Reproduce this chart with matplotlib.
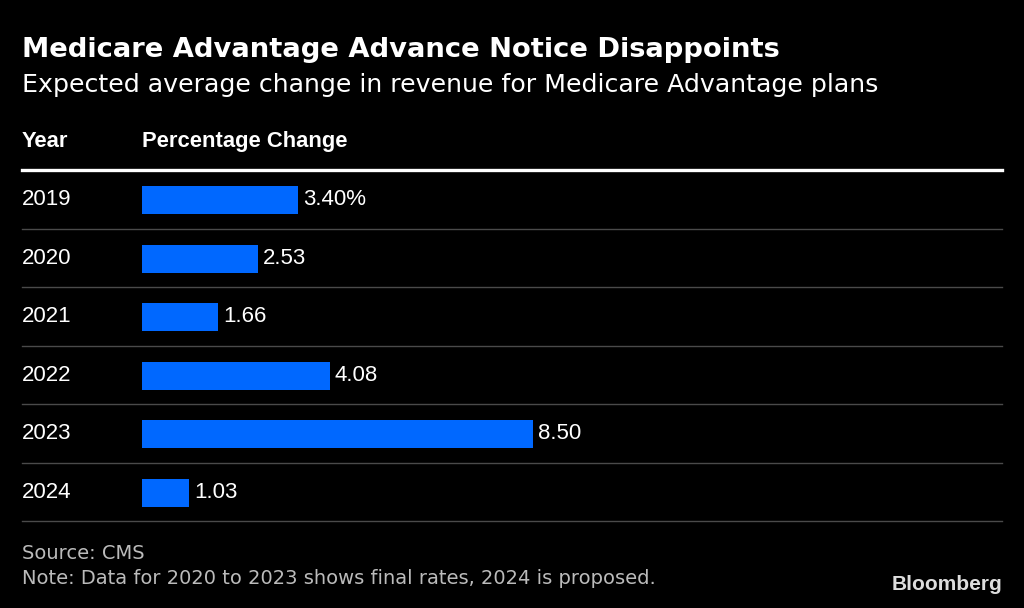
import matplotlib.pyplot as plt
from matplotlib.transforms import blended_transform_factory

years = ['2019', '2020', '2021', '2022', '2023', '2024']
changes = [3.40, 2.53, 1.66, 4.08, 8.50, 1.03]
value_labels = ['3.40%', '2.53', '1.66', '4.08', '8.50', '1.03']

BG = '#000000'
BAR = '#0068FF'
W, H = 1024, 608

fig = plt.figure(figsize=(W / 100, H / 100), dpi=100, facecolor=BG)

# table area: bars start at x=142px, rows between y=170px and y=521px
left, right = 142 / W, 1002 / W
top, bottom = 1 - 170 / H, 1 - 521 / H
ax = fig.add_axes([left, bottom, right - left, top - bottom])
ax.set_facecolor(BG)

pos = [i + 0.52 for i in range(len(years))]
ax.barh(pos, changes, height=0.48, color=BAR, left=0)
ax.set_xlim(0, (1002 - 142) / 46.0)
ax.set_ylim(len(years), 0)
ax.axis('off')

label_x = -(142 - 22) / (1002 - 142)
trans = blended_transform_factory(ax.transAxes, ax.transData)
for p, y, v, lbl in zip(pos, years, changes, value_labels):
    ax.text(label_x, p - 0.01, y, transform=trans, color='white', fontsize=16,
            family='Liberation Sans', va='center', ha='left')
    ax.annotate(lbl, (v, p - 0.01), xytext=(3.5, 0), textcoords='offset points',
                color='white', fontsize=16, family='Liberation Sans',
                va='center', ha='left')

# row separators
for i in range(1, len(years) + 1):
    ax.axhline(i, xmin=label_x, xmax=1, color='#4a4a4a', lw=1, clip_on=False)
ax.axhline(0, xmin=label_x, xmax=1, color='white', lw=2.4, clip_on=False)

# titles and headers
fig.text(22 / W, 1 - 57 / H, 'Medicare Advantage Advance Notice Disappoints',
         color='white', fontsize=19.7, fontweight='bold', family='DejaVu Sans',
         va='baseline', ha='left')
fig.text(22 / W, 1 - 92 / H, 'Expected average change in revenue for Medicare Advantage plans',
         color='white', fontsize=18.2, family='DejaVu Sans', va='baseline', ha='left')
fig.text(22 / W, 1 - 147 / H, 'Year', color='white', fontsize=15.8,
         fontweight='bold', family='Liberation Sans', va='baseline', ha='left')
fig.text(142 / W, 1 - 147 / H, 'Percentage Change', color='white', fontsize=15.8,
         fontweight='bold', family='Liberation Sans', va='baseline', ha='left')

# footer
fig.text(22 / W, 1 - 559 / H, 'Source: CMS', color='#bbbbbb', fontsize=14,
         family='DejaVu Sans', va='baseline', ha='left')
fig.text(22 / W, 1 - 584 / H,
         'Note: Data for 2020 to 2023 shows final rates, 2024 is proposed.',
         color='#bbbbbb', fontsize=14, family='DejaVu Sans', va='baseline', ha='left')
fig.text(1002 / W, 1 - 590 / H, 'Bloomberg', color='#dddddd', fontsize=15,
         fontweight='bold', family='Liberation Sans', va='baseline', ha='right')

fig.savefig('out.png', dpi=100, facecolor=BG)
